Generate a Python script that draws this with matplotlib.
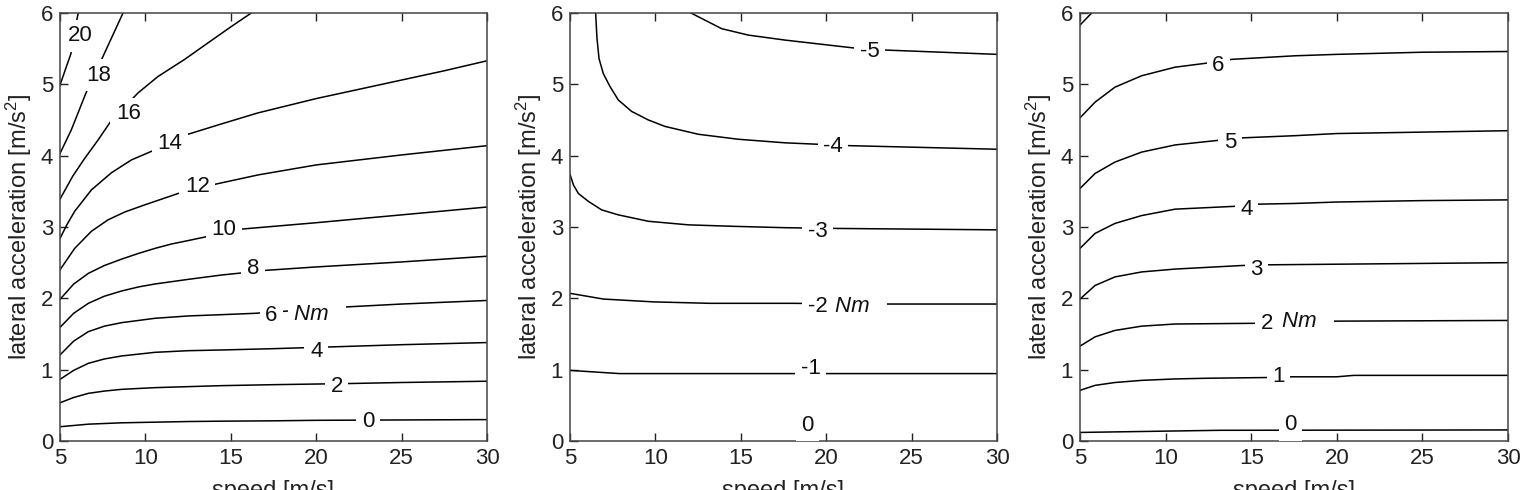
import numpy as np
import matplotlib
matplotlib.use('Agg')
import matplotlib.pyplot as plt

plt.rcParams['font.family'] = ['Liberation Sans', 'DejaVu Sans']
plt.rcParams['mathtext.fontset'] = 'custom'
plt.rcParams['mathtext.rm'] = 'Liberation Sans'
plt.rcParams['mathtext.it'] = 'Liberation Sans:italic'

# contour lines: level -> (speed [m/s], lateral acc [m/s^2])
left_lines = {
    0: ([5, 6.66, 8.61, 10.56, 12.51, 14.47, 17.59, 20, 25, 30],
        [0.20, 0.236, 0.255, 0.264, 0.273, 0.278, 0.283, 0.29, 0.295, 0.30]),
    2: ([5, 5.8, 6.66, 7.6, 8.61, 10.56, 12.51, 14.47, 17.59, 21.8, 25, 30],
        [0.536, 0.61, 0.668, 0.70, 0.724, 0.748, 0.762, 0.776, 0.79, 0.805, 0.82, 0.838]),
    4: ([5, 5.8, 6.66, 7.6, 8.61, 10.56, 12.51, 14.47, 17.59, 21, 25, 30],
        [0.864, 0.99, 1.089, 1.15, 1.192, 1.243, 1.266, 1.276, 1.295, 1.32, 1.35, 1.38]),
    6: ([5, 5.8, 6.66, 7.6, 8.61, 10.56, 12.51, 14.47, 16.42, 21.8, 25, 30],
        [1.206, 1.40, 1.533, 1.61, 1.659, 1.72, 1.753, 1.771, 1.79, 1.88, 1.92, 1.97]),
    8: ([5, 5.8, 6.66, 7.6, 8.61, 9.6, 10.56, 12.51, 14.47, 15.8, 16.9, 20, 25, 30],
        [1.593, 1.79, 1.93, 2.03, 2.103, 2.16, 2.201, 2.266, 2.327, 2.36, 2.39, 2.44, 2.51, 2.59]),
    10: ([5, 5.8, 6.66, 7.6, 8.61, 9.6, 10.56, 11.5, 12.51, 13.7, 15.6, 20, 25, 30],
         [1.986, 2.20, 2.35, 2.46, 2.55, 2.63, 2.70, 2.76, 2.81, 2.87, 2.97, 3.06, 3.17, 3.28]),
    12: ([5, 5.86, 6.84, 7.81, 8.79, 9.96, 11.92, 14.1, 16.6, 20, 25, 30],
         [2.40, 2.70, 2.94, 3.10, 3.21, 3.31, 3.47, 3.60, 3.73, 3.87, 4.01, 4.14]),
    14: ([5, 5.4, 5.86, 6.84, 8.01, 9.18, 10.35, 12.5, 14.25, 16.6, 20, 22.5, 25, 27.5, 30],
         [2.84, 3.03, 3.22, 3.52, 3.76, 3.94, 4.06, 4.30, 4.43, 4.60, 4.80, 4.93, 5.06, 5.19, 5.33]),
    16: ([5, 5.74, 6.44, 7.23, 7.97, 9.57, 10.74, 12.3, 13.66, 15.03, 16.2],
         [3.39, 3.71, 3.96, 4.22, 4.48, 4.88, 5.11, 5.35, 5.58, 5.81, 6.0]),
    18: ([5, 5.66, 6.54, 7.42, 8.69],
         [4.03, 4.36, 4.89, 5.34, 6.0]),
    20: ([5, 5.64, 5.98, 6.07],
         [4.99, 5.43, 5.90, 6.0]),
}
left_labels = [('20', 6.17, 5.68), ('18', 7.24, 5.13), ('16', 9.0, 4.59),
               ('14', 11.45, 4.17), ('12', 13.05, 3.57), ('10', 14.6, 2.97),
               ('8', 16.3, 2.42), ('6', 17.38, 1.76), ('4', 20.0, 1.25),
               ('2', 21.2, 0.76), ('0', 23.04, 0.27)]
left_unit = (18.70, 1.77)

mid_lines = {
    -1: ([5, 7.9, 12, 20, 30],
         [0.99, 0.945, 0.945, 0.945, 0.945]),
    -2: ([5, 6.95, 9.9, 13.2, 18.0, 22.5, 30],
         [2.07, 1.99, 1.95, 1.93, 1.93, 1.92, 1.92]),
    -3: ([5, 5.2, 5.49, 6.07, 6.85, 7.83, 9.59, 11.93, 14.5, 17.6, 20.5, 30],
         [3.74, 3.59, 3.47, 3.36, 3.24, 3.17, 3.08, 3.03, 3.01, 2.99, 2.98, 2.96]),
    -4: ([6.5, 6.58, 6.70, 6.95, 7.34, 7.83, 8.61, 9.59, 10.56, 12.51, 14.85, 17.59, 21.4, 30],
         [6.0, 5.645, 5.36, 5.15, 4.97, 4.78, 4.62, 4.50, 4.41, 4.30, 4.23, 4.18, 4.14, 4.09]),
    -5: ([12.08, 12.9, 13.88, 15.44, 17.59, 21.6, 23.5, 30],
         [6.0, 5.90, 5.78, 5.69, 5.62, 5.51, 5.48, 5.42]),
}
mid_labels = [('-5', 22.55, 5.46), ('-4', 20.4, 4.13), ('-3', 19.5, 2.93),
              ('-2', 19.5, 1.88), ('-1', 19.1, 1.02), ('0', 18.9, 0.22)]
mid_unit = (20.51, 1.88)

right_lines = {
    0: ([5, 10.4, 13.2, 30],
        [0.12, 0.14, 0.15, 0.155]),
    1: ([5, 5.88, 7.04, 8.6, 10.55, 12.5, 16.0, 17.4, 20, 21, 30],
        [0.71, 0.78, 0.82, 0.85, 0.87, 0.88, 0.89, 0.90, 0.90, 0.92, 0.92]),
    2: ([5, 5.88, 7.04, 8.6, 10.55, 15.23, 19.8, 30],
        [1.33, 1.46, 1.55, 1.61, 1.64, 1.65, 1.68, 1.69]),
    3: ([5, 5.88, 7.04, 8.6, 10.55, 14.45, 16.1, 30],
        [1.99, 2.18, 2.30, 2.37, 2.41, 2.46, 2.47, 2.50]),
    4: ([5, 5.88, 7.04, 8.6, 10.55, 14.06, 15.41, 17.56, 20, 25, 30],
        [2.70, 2.91, 3.05, 3.16, 3.25, 3.29, 3.32, 3.33, 3.35, 3.37, 3.38]),
    5: ([5, 5.88, 7.04, 8.6, 10.55, 12.89, 14.54, 17.56, 20, 25, 30],
        [3.54, 3.75, 3.91, 4.05, 4.15, 4.21, 4.25, 4.28, 4.31, 4.33, 4.35]),
    6: ([5, 5.88, 7.04, 8.6, 10.55, 12.5, 13.86, 17.56, 20, 25, 30],
        [4.53, 4.75, 4.96, 5.12, 5.24, 5.30, 5.35, 5.40, 5.42, 5.45, 5.46]),
    7: ([5, 5.68],
        [5.83, 6.0]),
}
right_labels = [('6', 13.08, 5.27), ('5', 13.76, 4.19), ('4', 14.73, 3.25),
                ('3', 15.32, 2.41), ('2', 15.9, 1.65), ('1', 16.6, 0.90),
                ('0', 17.3, 0.23)]
right_unit = (16.78, 1.67)

speed_ticks = [5, 10, 15, 20, 25, 30]
acc_ticks = [0, 1, 2, 3, 4, 5, 6]

fig = plt.figure(figsize=(15.25, 4.9), dpi=100)
positions = [[0.03934, 0.1, 0.28, 0.8735],
             [0.37377, 0.1, 0.28, 0.8735],
             [0.70820, 0.1, 0.28066, 0.8735]]
panels = [(left_lines, left_labels, left_unit),
          (mid_lines, mid_labels, mid_unit),
          (right_lines, right_labels, right_unit)]

box = dict(boxstyle='square,pad=0.25', facecolor='white', edgecolor='none')

for pos, (lines, labels, unit) in zip(positions, panels):
    ax = fig.add_axes(pos)
    for level, (v, a) in lines.items():
        ax.plot(v, a, color='black', lw=1.1, zorder=2,
                solid_joinstyle='round')
    for txt, v, a in labels:
        ax.text(v, a, txt, fontsize=16, ha='center', va='center', color='#111',
                bbox=box, zorder=5, clip_on=False)
    # unit annotation next to one label
    ax.text(unit[0], unit[1], 'Nm  ', fontsize=16, style='italic', ha='left',
            va='center', color='#111', bbox=box, zorder=5)
    ax.set_xlim(5, 30)
    ax.set_ylim(0, 6)
    ax.set_xticks(speed_ticks)
    ax.set_yticks(acc_ticks)
    ax.tick_params(direction='in', top=True, right=False, length=6, width=1,
                   pad=5, labelsize=16, colors='#222')
    for s in ax.spines.values():
        s.set_color('#444')
        s.set_linewidth(1.1)
    ax.set_xlabel('speed [m/s]', fontsize=17, labelpad=8, color='#222')
    ax.set_ylabel('lateral acceleration [m/s$^2$]', fontsize=17, labelpad=5,
                  color='#222')

fig.savefig('out.png', dpi=100)
